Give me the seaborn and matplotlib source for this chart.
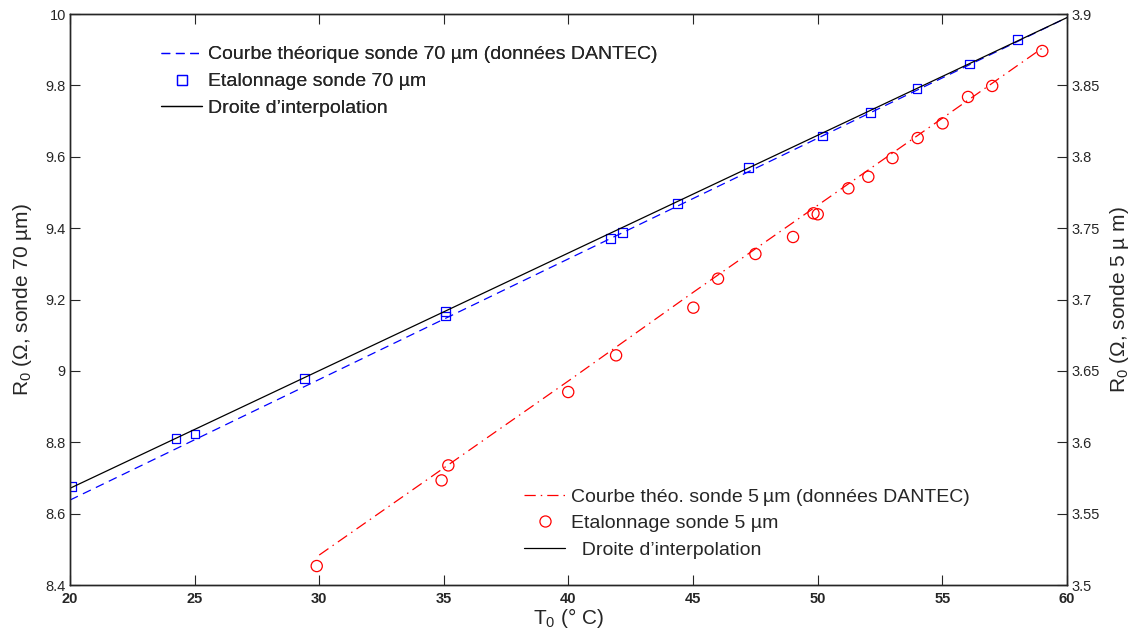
import numpy as np
import pandas as pd
import matplotlib
matplotlib.use("Agg")
import matplotlib.pyplot as plt
import seaborn as sns
from matplotlib.lines import Line2D

# sonde 70 um : etalonnage (T0, R0)
t70 = [20.08, 24.25, 25.02, 29.42, 35.07, 35.07, 41.70, 42.17, 44.37, 47.23, 50.18, 52.12, 53.98, 56.08, 58.03]
r70 = [8.677, 8.810, 8.823, 8.978, 9.166, 9.154, 9.370, 9.388, 9.470, 9.569, 9.658, 9.725, 9.791, 9.860, 9.928]
# courbe theorique 70 um (DANTEC)
t70_theo = [20, 30, 35, 40, 45, 50, 55, 60]
r70_theo = [8.638, 8.976, 9.145, 9.314, 9.483, 9.652, 9.821, 9.990]
# droite d'interpolation 70 um
t70_fit = [20, 60]
r70_fit = [8.671, 9.990]

# sonde 5 um : etalonnage
t5 = [29.90, 34.91, 35.18, 39.99, 41.91, 45.01, 46.0, 47.50, 49.01, 49.83, 50.0, 51.23, 52.03, 53.0, 54.01, 55.01, 56.03, 57.0, 59.01]
r5 = [3.5133, 3.5733, 3.5838, 3.6352, 3.6609, 3.6943, 3.7146, 3.7319, 3.7438, 3.7604, 3.7597, 3.7779, 3.786, 3.7991, 3.8131, 3.8234, 3.8419, 3.8496, 3.8741]
# courbe theorique 5 um
t5_theo = [30, 35, 40, 45, 50, 55, 59]
r5_theo = [3.521, 3.582, 3.643, 3.705, 3.766, 3.827, 3.876]

sns.set_style("ticks")
plt.rcParams['font.family'] = ['Liberation Sans', 'DejaVu Sans']
plt.rcParams['mathtext.fontset'] = 'custom'
plt.rcParams['mathtext.rm'] = 'Liberation Sans'
plt.rcParams['mathtext.it'] = 'Liberation Sans'

fig = plt.figure(figsize=(11.34, 6.37), dpi=100)
ax = fig.add_axes([0.0617, 0.0816, 0.8792, 0.8964])
ax2 = ax.twinx()

dash70 = (0, (7, 4.5))
dash5 = (0, (9, 4, 1.2, 4))

sns.lineplot(x=t70_theo, y=r70_theo, ax=ax, color='blue', linestyle=dash70, linewidth=0.9, legend=False)
sns.lineplot(x=t70_fit, y=r70_fit, ax=ax, color='black', linewidth=0.9, legend=False)
sns.scatterplot(x=t70, y=r70, ax=ax, marker='s', s=40, facecolor='none', edgecolor='blue', linewidth=0.9, legend=False)

sns.lineplot(x=t5_theo, y=r5_theo, ax=ax2, color='red', linestyle=dash5, linewidth=0.9, legend=False)
sns.scatterplot(x=t5, y=r5, ax=ax2, marker='o', s=65, facecolor='none', edgecolor='red', linewidth=0.9, legend=False)

ax.set_xlim(20, 60)
ax.set_ylim(8.4, 10)
ax2.set_ylim(3.5, 3.9)
ax.set_xticks(np.arange(20, 61, 5))
ax.set_yticks([8.4, 8.6, 8.8, 9, 9.2, 9.4, 9.6, 9.8, 10])
ax.set_yticklabels(['8.4', '8.6', '8.8', '9', '9.2', '9.4', '9.6', '9.8', '10'])
ax2.set_yticks([3.5, 3.55, 3.6, 3.65, 3.7, 3.75, 3.8, 3.85, 3.9])
ax2.set_yticklabels(['3.5', '3.55', '3.6', '3.65', '3.7', '3.75', '3.8', '3.85', '3.9'])

ax.tick_params(axis='x', direction='in', top=True, length=7, width=0.8, labelsize=10.5, pad=5)
ax.tick_params(axis='y', direction='in', length=7, width=0.8, labelsize=10.5, pad=3)
ax2.tick_params(axis='y', direction='in', length=7, width=0.8, labelsize=10.5, pad=3)
for lab in ax.get_xticklabels():
    lab.set_fontweight('bold')
for a in (ax, ax2):
    for sp in a.spines.values():
        sp.set_linewidth(1.0)
        sp.set_visible(True)

ax.set_xlabel('T$_0$ (° C)', fontsize=15, labelpad=0)
ax.set_ylabel('R$_0$ (Ω, sonde 70 µm)', fontsize=15, labelpad=8)
ax2.set_ylabel('R$_0$ (Ω, sonde 5 µ m)', fontsize=15, labelpad=6)

h1 = [Line2D([], [], color='blue', linestyle=dash70, linewidth=0.9),
      Line2D([], [], color='blue', marker='s', markersize=6.5, markerfacecolor='none', linestyle='none', markeredgewidth=0.9),
      Line2D([], [], color='black', linewidth=0.9)]
l1 = ['Courbe théorique sonde 70 µm (données DANTEC)', 'Etalonnage sonde 70 µm', 'Droite d’interpolation']
leg1 = ax.legend(h1, l1, loc='upper left', bbox_to_anchor=(0.074, 0.975), frameon=False,
                 fontsize=14, handlelength=2.1, handletextpad=0.3, labelspacing=0.48)

h2 = [Line2D([], [], color='red', linestyle=dash5, linewidth=0.9),
      Line2D([], [], color='red', marker='o', markersize=8, markerfacecolor='none', linestyle='none', markeredgewidth=0.9),
      Line2D([], [], color='black', linewidth=0.9)]
l2 = ['Courbe théo. sonde 5\u2009µm (données DANTEC)', 'Etalonnage sonde 5 µm', '  Droite d’interpolation']
leg2 = ax2.legend(h2, l2, loc='upper left', bbox_to_anchor=(0.438, 0.2), frameon=False,
                  fontsize=14, handlelength=2.1, handletextpad=0.3, labelspacing=0.45)
ax.add_artist(leg1)

fig.savefig('out.png', dpi=100)
